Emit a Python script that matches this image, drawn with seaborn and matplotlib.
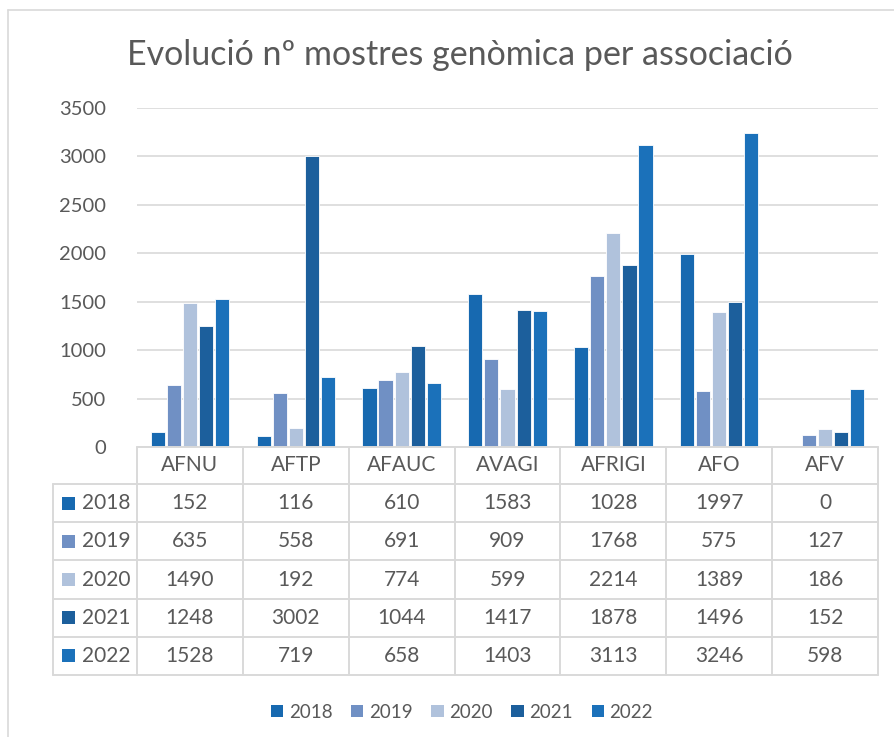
import matplotlib
matplotlib.use("Agg")
import matplotlib.pyplot as plt
import matplotlib.transforms as mtransforms
from matplotlib.patches import Rectangle
from matplotlib.lines import Line2D
import seaborn as sns
import pandas as pd

categories = ["AFNU", "AFTP", "AFAUC", "AVAGI", "AFRIGI", "AFO", "AFV"]
years = ["2018", "2019", "2020", "2021", "2022"]
v2018 = [152, 116, 610, 1583, 1028, 1997, 0]
v2019 = [635, 558, 691, 909, 1768, 575, 127]
v2020 = [1490, 192, 774, 599, 2214, 1389, 186]
v2021 = [1248, 3002, 1044, 1417, 1878, 1496, 152]
v2022 = [1528, 719, 658, 1403, 3113, 3246, 598]
series = [v2018, v2019, v2020, v2021, v2022]
colors = ["#1769B0", "#7090C4", "#B0C2DC", "#1C5F9C", "#1B71BA"]
yticks = [0, 500, 1000, 1500, 2000, 2500, 3000, 3500]
title = "Evolució nº mostres genòmica per associació"

rows = []
for y, vals in zip(years, series):
    for c, v in zip(categories, vals):
        rows.append({"cat": c, "year": y, "value": v})
df = pd.DataFrame(rows)

sns.set_theme(style="white")
plt.rcParams["font.family"] = ["Lato", "DejaVu Sans"]
TXT = "#595959"
GRID = "#D9D9D9"

W, H = 894, 737
fig = plt.figure(figsize=(W / 100, H / 100), dpi=100)

def fx(px):
    return px / W

def fy(py):
    return 1 - py / H

left, right, top, bottom = 137, 878, 108, 447
ax = fig.add_axes([fx(left), fy(bottom), fx(right) - fx(left), fy(top) - fy(bottom)])

sns.barplot(data=df, x="cat", y="value", hue="year", order=categories,
            hue_order=years, palette=colors, width=0.76, gap=0.12,
            saturation=1, ax=ax, legend=False, edgecolor="white", linewidth=0.6)

ax.set_xlim(-0.5, len(categories) - 0.5)
ax.set_ylim(0, 3500)
ax.set_yticks(yticks)
ax.set_yticklabels([str(t) for t in yticks], color=TXT, fontsize=14.5)
ax.tick_params(axis="y", length=0, pad=22)
ax.set_xticks([])
ax.set_xlabel("")
ax.set_ylabel("")
for s in ax.spines.values():
    s.set_visible(False)
ax.yaxis.grid(True, color=GRID, linewidth=1.2)
ax.set_axisbelow(True)

# table below
trans = mtransforms.blended_transform_factory(ax.transData, fig.transFigure)
row_h = 38.2
header_top = bottom
header_bot = 484
table_left = 53
lw = 1.4
fig.add_artist(Line2D([fx(left), fx(right)], [fy(header_top)] * 2, color=GRID, lw=lw))
for i in range(len(years) + 1):
    yy = header_bot + i * row_h
    fig.add_artist(Line2D([fx(table_left), fx(right)], [fy(yy)] * 2, color=GRID, lw=lw))
bottom_tbl = header_bot + len(years) * row_h
for k in range(len(categories) + 1):
    xx = left + k * (right - left) / len(categories)
    fig.add_artist(Line2D([fx(xx)] * 2, [fy(header_top), fy(bottom_tbl)], color=GRID, lw=lw))
fig.add_artist(Line2D([fx(table_left)] * 2, [fy(header_bot), fy(bottom_tbl)], color=GRID, lw=lw))

for j, c in enumerate(categories):
    ax.text(j, fy((header_top + header_bot) / 2), c, transform=trans,
            ha="center", va="center", fontsize=15, color=TXT)
for i, (y, vals, col) in enumerate(zip(years, series, colors)):
    yc = fy(header_bot + (i + 0.5) * row_h)
    fig.add_artist(Rectangle((fx(62), yc - 6.5 / H), 13 / W, 13 / H,
                             facecolor=col, edgecolor="none", transform=fig.transFigure))
    fig.text(fx(82), yc, y, ha="left", va="center", fontsize=15, color=TXT)
    for j, v in enumerate(vals):
        ax.text(j, yc, str(v), transform=trans, ha="center", va="center",
                fontsize=15, color=TXT)

# legend
handles = [Rectangle((0, 0), 1, 1, facecolor=c, edgecolor="none") for c in colors]
fig.legend(handles, years, loc="center", bbox_to_anchor=(fx(462), fy(712)),
           ncol=5, frameon=False, fontsize=13.5, handlelength=0.65, handleheight=0.65,
           handletextpad=0.3, columnspacing=1.0, labelcolor=TXT)

fig.text(fx(460), fy(55), title, ha="center", va="center", fontsize=24.5, color=TXT)

# chart border
fig.add_artist(Line2D([fx(8), fx(8)], [fy(10), 0], color=GRID, lw=1.2))
fig.add_artist(Line2D([fx(8), 1], [fy(10), fy(10)], color=GRID, lw=1.2))

fig.savefig("out.png", dpi=100, facecolor="white")
